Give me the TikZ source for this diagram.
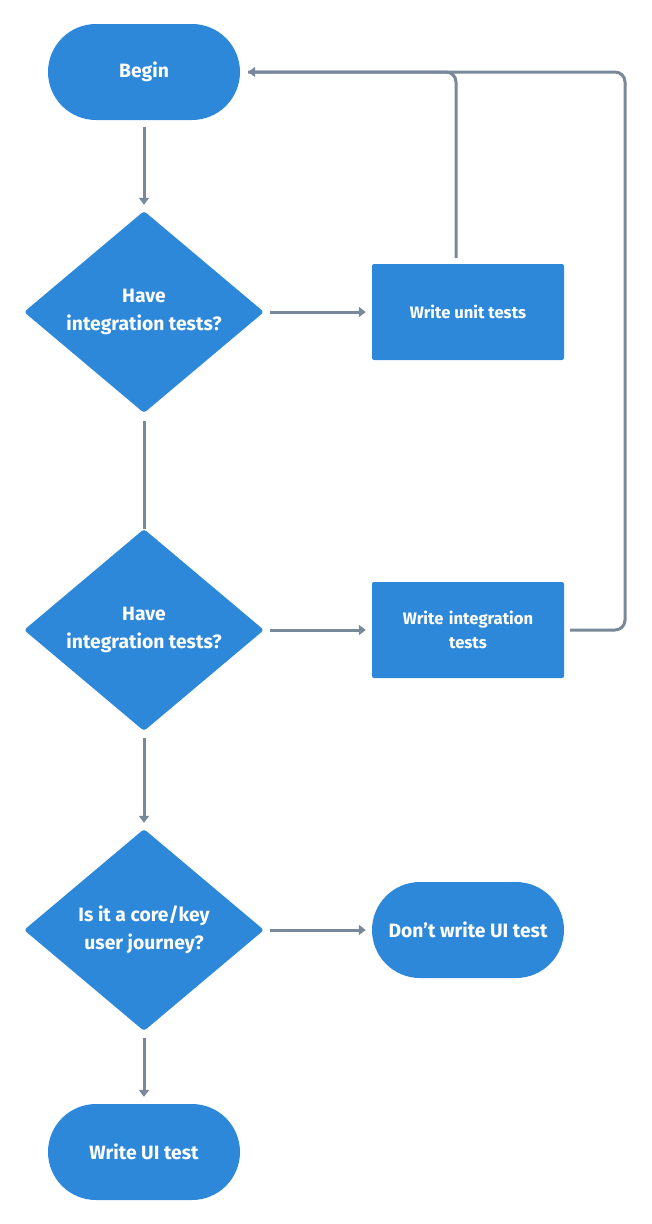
\documentclass[tikz,border=0pt]{standalone}
\usepackage{fontspec}
\setmainfont{Fira Sans}
\usetikzlibrary{shapes.geometric,arrows.meta,calc}
\definecolor{nodeblue}{RGB}{46,136,217}
\definecolor{linegray}{RGB}{122,137,153}
\tikzset{
  base/.style={fill=nodeblue, text=white, font=\bfseries, align=center, inner sep=0pt},
  stadium/.style={base, rectangle, rounded corners=48pt, minimum width=192pt, minimum height=96pt, font=\fontsize{19.3}{24}\selectfont\bfseries},
  stepbox/.style={base, rectangle, rounded corners=2pt, minimum width=192pt, minimum height=96pt, font=\fontsize{16.6}{24}\selectfont\bfseries},
  decision/.style={base, diamond, rounded corners=3pt, minimum width=240pt, minimum height=202pt, font=\fontsize{19.3}{28}\selectfont\bfseries},
  conn/.style={draw=linegray, line width=3pt},
  arr/.style={conn, -{Triangle[width=10pt,length=7pt]}},
}
\begin{document}
\begin{tikzpicture}[x=1pt,y=-1pt]
\useasboundingbox (0,0) rectangle (652,1224);
\node[stadium] (begin) at (144,72) {Begin};
\node[decision] (d1) at (144,312) {Have\\integration tests?};
\node[stepbox] (unit) at (468,312) {Write unit tests};
\node[decision] (d2) at (144,630) {Have\\integration tests?};
\node[stepbox, text width=180pt] (integ) at (468,630) {Write integration\\tests};
\node[decision] (d3) at (144,930) {Is it a core/key\\user journey?};
\node[stadium] (dont) at (468,930) {Don't write UI test};
\node[stadium] (ui) at (144,1152) {Write UI test};
\coordinate (rt) at (625,72);

\draw[arr] ([yshift=-7pt]begin.south) -- ([yshift=6pt]d1.north);
\draw[arr] ([xshift=6pt]d1.east) -- ([xshift=-6pt]unit.west);
\draw[conn, rounded corners=10pt] ([xshift=-12pt,yshift=6pt]unit.north) |- ([xshift=8pt]begin.east);
\draw[conn] ([yshift=-8pt]d1.south) -- (d2.north);
\draw[arr] ([xshift=6pt]d2.east) -- ([xshift=-6pt]integ.west);
\draw[arr, rounded corners=10pt] ([xshift=6pt]integ.east) -| (rt) -- ([xshift=8pt]begin.east);
\draw[arr] ([yshift=-7pt]d2.south) -- ([yshift=6pt]d3.north);
\draw[arr] ([xshift=6pt]d3.east) -- ([xshift=-6pt]dont.west);
\draw[arr] ([yshift=-7pt]d3.south) -- ([yshift=7pt]ui.north);
\end{tikzpicture}
\end{document}
